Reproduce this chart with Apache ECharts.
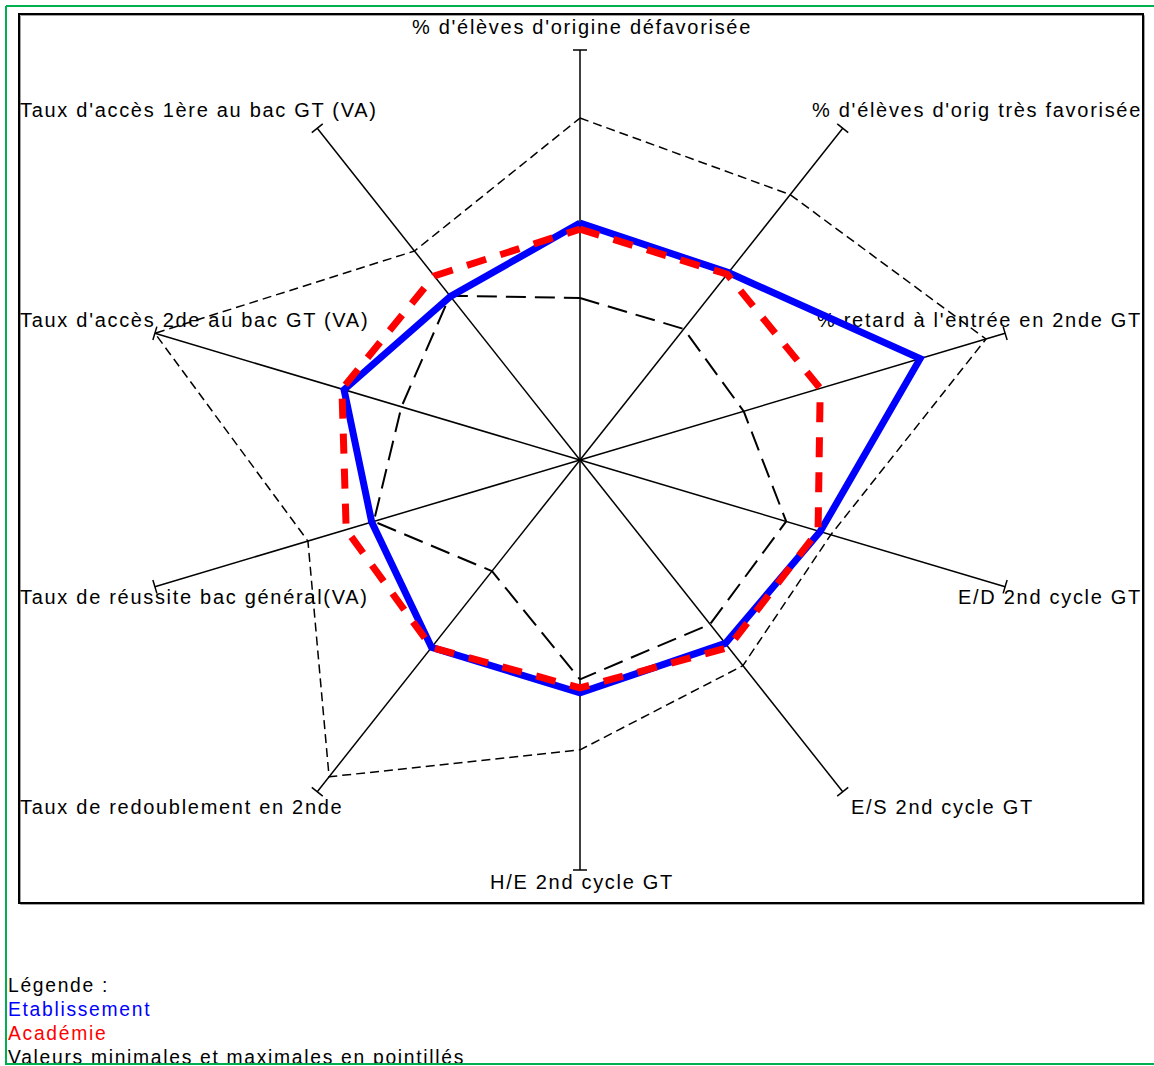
<!DOCTYPE html>
<html>
<head>
<meta charset="utf-8">
<script src="https://cdn.jsdelivr.net/npm/echarts@6/dist/echarts.min.js"></script>
<style>
  html, body { margin: 0; padding: 0; background: #fff; }
  #main { width: 1154px; height: 1066px; }
  #main text { letter-spacing: 1.7px; }
</style>
</head>
<body>
<div id="main"></div>
<script>
// axes clockwise from the top
var categories = [
  "% d'élèves d'origine défavorisée",
  "% d'élèves d'orig très favorisée",
  "% retard à l'entrée en 2nde GT",
  "E/D 2nd cycle GT",
  "E/S 2nd cycle GT",
  "H/E 2nd cycle GT",
  "Taux de redoublement en 2nde",
  "Taux de réussite bac général(VA)",
  "Taux d'accès 2de au bac GT (VA)",
  "Taux d'accès 1ère au bac GT (VA)"
];
// values normalised 0..100 along each axis
var etablissement = [57.8, 56.5, 80, 56.5, 55.3, 56.8, 56.5, 49, 55.5, 49.3];
var academie = [56.3, 56, 56.5, 56, 56.5, 55.6, 56.5, 55, 56, 55.5];
var valeursMin = [39.5, 39.5, 38.5, 48.5, 49.5, 53.5, 33.5, 48.5, 42, 49.5];
var valeursMax = [83.4, 80, 95.5, 59, 62, 70.7, 95.5, 64, 100, 63];
var legendLines = [
  "Légende :",
  "Etablissement",
  "Académie",
  "Valeurs minimales et maximales en pointillés"
];

var FONT = "20px 'Liberation Sans', Arial, sans-serif";
var LEGEND_FONT = "19.3px 'Liberation Sans', Arial, sans-serif";
var N = categories.length;

// where each axis name sits (same order as categories)
var namePos = [
  [582, 27, 'center'],
  [1142, 110, 'right'],
  [1142, 320, 'right'],
  [1142, 597, 'right'],
  [851, 807, 'left'],
  [582, 882, 'center'],
  [20, 807, 'left'],
  [20, 597, 'left'],
  [20, 320, 'left'],
  [20, 110, 'left']
];
var legendColors = ['#000', '#0000ff', '#ff0000', '#000'];

// point of value v on axis i, in the -100..100 plane
function polar(v, i) {
  var a = i * 2 * Math.PI / N;
  return [v * Math.sin(a), v * Math.cos(a)];
}
function ring(vals) {
  var pts = vals.map(polar);
  pts.push(pts[0]);
  return pts;
}

function txt(s, x, y, align, color, font) {
  return {
    type: 'text', x: x, y: y, z: 0, silent: true,
    style: {
      text: s, font: font || FONT, fill: color || '#000',
      align: align, textAlign: align,
      verticalAlign: 'middle', textVerticalAlign: 'middle'
    }
  };
}

var graphics = [];
// frame around the plot
graphics.push({ type: 'rect', z: 0, silent: true,
  shape: { x: 20.5, y: 15.5, width: 1124, height: 889 },
  style: { fill: 'none', stroke: '#a0a0a0', lineWidth: 1 } });
graphics.push({ type: 'rect', z: 0, silent: true,
  shape: { x: 19, y: 14, width: 1124, height: 889 },
  style: { fill: 'none', stroke: '#000', lineWidth: 2 } });

categories.forEach(function (c, i) {
  graphics.push(txt(c, namePos[i][0], namePos[i][1], namePos[i][2]));
});
legendLines.forEach(function (s, i) {
  graphics.push(txt(s, 8, 985 + i * 24, 'left', legendColors[i], LEGEND_FONT));
});
// white strip below the bottom border, then the green border
graphics.push({ type: 'rect', z: 5, silent: true,
  shape: { x: 0, y: 1065, width: 1154, height: 2 }, style: { fill: '#fff' } });
var green = '#00b050';
[[6, 6, 1154, 6], [6, 6, 6, 1065], [6, 1064, 1154, 1064]].forEach(function (l) {
  graphics.push({ type: 'line', z: 6, silent: true,
    shape: { x1: l[0], y1: l[1], x2: l[2], y2: l[3] },
    style: { stroke: green, lineWidth: 2 } });
});

function lineSerie(name, vals, style) {
  return {
    name: name, type: 'line', data: ring(vals), symbol: 'none',
    silent: true, clip: false, lineStyle: style
  };
}

var chart = echarts.init(document.getElementById('main'), null, { renderer: 'svg' });
chart.setOption({
  animation: false,
  backgroundColor: '#fff',
  graphic: graphics,
  // the plot is wider than tall, so use a stretched cartesian plane
  grid: { left: 133, top: 50, width: 894, height: 820 },
  xAxis: { type: 'value', min: -100, max: 100, show: false },
  yAxis: { type: 'value', min: -100, max: 100, show: false },
  series: [
    {
      // spokes with a small cap at the end
      type: 'custom', silent: true, clip: false,
      data: categories.map(function (c, i) { return [i]; }),
      renderItem: function (params, api) {
        var i = api.value(0);
        var c = api.coord([0, 0]);
        var e = api.coord(polar(100, i));
        var dx = e[0] - c[0], dy = e[1] - c[1];
        var len = Math.sqrt(dx * dx + dy * dy);
        var px = -dy / len * 7, py = dx / len * 7;
        var st = { stroke: '#000', lineWidth: 1.5 };
        return {
          type: 'group', children: [
            { type: 'line', shape: { x1: c[0], y1: c[1], x2: e[0], y2: e[1] }, style: st },
            { type: 'line', shape: { x1: e[0] - px, y1: e[1] - py, x2: e[0] + px, y2: e[1] + py }, style: st }
          ]
        };
      }
    },
    lineSerie('max', valeursMax, { color: '#000', width: 1.5, type: [9, 5] }),
    lineSerie('min', valeursMin, { color: '#000', width: 2, type: [20, 9] }),
    lineSerie('Etablissement', etablissement, { color: '#0000ff', width: 7, join: 'miter' }),
    lineSerie('Académie', academie, { color: '#ff0000', width: 7, type: [20, 15], join: 'miter' })
  ]
});
</script>
</body>
</html>
